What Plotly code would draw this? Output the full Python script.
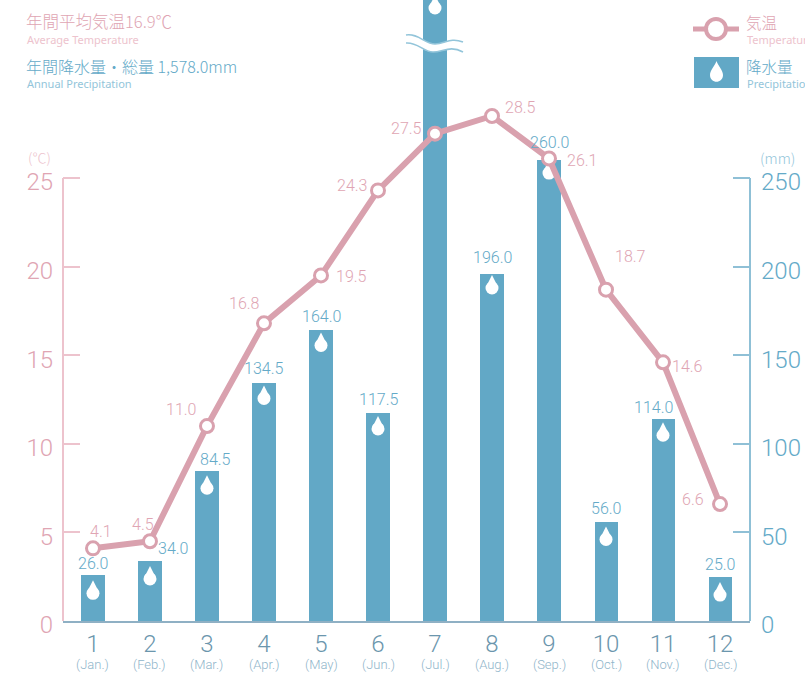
import plotly.graph_objects as go

months = list(range(1, 13))
month_names = ["(Jan.)", "(Feb.)", "(Mar.)", "(Apr.)", "(May)", "(Jun.)", "(Jul.)", "(Aug.)", "(Sep.)", "(Oct.)", "(Nov.)", "(Dec.)"]
temperature = [4.1, 4.5, 11.0, 16.8, 19.5, 24.3, 27.5, 28.5, 26.1, 18.7, 14.6, 6.6]
precipitation = [26.0, 34.0, 84.5, 134.5, 164.0, 117.5, 366.5, 196.0, 260.0, 56.0, 114.0, 25.0]
temp_ticks = [0, 5, 10, 15, 20, 25]
rain_ticks = [0, 50, 100, 150, 200, 250]

# label offsets from their point, in pixels
temp_shift = [(8, 17), (-7, 17), (-26, 17), (-19, 20), (30, -1), (-26, 5), (-29, 5), (28, 8), (33, -2), (24, 33), (24, -4), (-27, 5)]
rain_shift = [(0, 11), (23, 12), (9, 12), (0, 14), (0, 14), (0, 13), (0, 10), (0, 16), (0, 18), (0, 13), (-10, 11), (0, 12)]

PINK = "#d9a1ae"; PINK_TXT = "#e0a5b3"; PINK_LT = "#edc3cd"
BLUE = "#62a8c6"; BLUE_TXT = "#64aac8"; BLUE_LT = "#93c5da"
NUM = "Roboto"
CJK = "Noto Sans CJK JP"
W, H = 805, 675
L, R, B = 63, 55, 54
PH = H - B
PW = W - L - R
MM = (621 - 178) / 250  # px per mm
DROP_LIFT = 0.024       # px per mm: droplets sit slightly higher on the taller bars

def px(x): return (x - L) / PW
def py(y): return 1 - y / PH

fig = go.Figure()
fig.add_bar(x=months, y=precipitation, width=0.404, marker=dict(color=BLUE, line_width=0), yaxis="y", name="降水量", showlegend=False, hoverinfo="skip")

# droplets: round body and point, placed under each bar top
top_limit = PH / MM
body_y = [(p + (DROP_LIFT * p - 19) / MM) if p < top_limit else (PH - 8) / MM for p in precipitation]
tip_y = [(p + (DROP_LIFT * p - 15.5) / MM) if p < top_limit else (PH - 4.5) / MM for p in precipitation]
fig.add_scatter(x=months, y=tip_y, yaxis="y", mode="markers", hoverinfo="skip", showlegend=False,
                marker=dict(symbol="diamond-tall", size=13.6, color="white", line_width=0))
fig.add_scatter(x=months, y=body_y, yaxis="y", mode="markers", hoverinfo="skip", showlegend=False,
                marker=dict(symbol="circle", size=13, color="white", line_width=0))

fig.add_scatter(x=months, y=temperature, yaxis="y2", mode="lines+markers", hoverinfo="skip", showlegend=False, name="気温",
                line=dict(color=PINK, width=6),
                marker=dict(symbol="circle", size=13, color="white", line=dict(color=PINK, width=3)))

ann = []
def text(x, y, s, size, color, family=CJK, xanchor="left", weight=300):
    ann.append(dict(xref="paper", yref="paper", x=px(x), y=py(y), text=s, showarrow=False, xanchor=xanchor, yanchor="middle",
                    font=dict(size=size, color=color, family=family, weight=weight), borderpad=0, borderwidth=0))

for m, t, (dx, dy) in zip(months, temperature, temp_shift):
    ann.append(dict(x=m, y=t, xref="x", yref="y2", text=f"{t:.1f}", showarrow=False, xshift=dx, yshift=dy,
                    font=dict(size=16, color=PINK_TXT, family=NUM, weight=300)))
for m, p, (dx, dy) in zip(months, precipitation, rain_shift):
    if p * MM < PH:
        ann.append(dict(x=m, y=p, xref="x", yref="y", text=f"{p:.1f}", showarrow=False, xshift=dx, yshift=dy,
                        font=dict(size=16, color=BLUE_TXT, family=NUM, weight=300)))
for m, n in zip(months, month_names):
    ann.append(dict(x=m, xref="x", yref="paper", y=py(664), yanchor="middle", text=n, showarrow=False,
                    font=dict(size=13, color="#8fb5ca", family=NUM, weight=300)))

text(26, 21, "年間平均気温16.9℃", 16.5, PINK_TXT)
text(27, 39, "Average Temperature", 11, PINK_LT, "Noto Sans", weight=400)
text(26, 66, "年間降水量・総量 1,578.0mm", 16, BLUE_TXT)
text(27, 83, "Annual Precipitation", 11, BLUE_LT, "Noto Sans", weight=400)
text(28, 157, "(℃)", 14, PINK_LT)
text(760, 157, "(mm)", 14.5, BLUE_LT)
text(746, 22, "気温", 15.5, PINK_TXT)
text(747, 39, "Temperature", 11, PINK_LT, "Noto Sans", weight=400)
text(746, 66, "降水量", 15.5, BLUE_TXT)
text(747, 83, "Precipitation", 11, BLUE_LT, "Noto Sans", weight=400)

def wave(pts):
    return "M {} {} C {} {} {} {} {} {} C {} {} {} {} {} {}".format(
        *[v for x, y in pts for v in (px(x), py(y))])

upper = [(406, 35), (418, 33), (425, 44), (435, 44), (445, 44), (450, 37), (463, 42)]
lower = [(406, 43), (418, 42), (423, 52), (433, 52), (443, 52), (450, 45), (463, 52)]
gap = wave(upper) + " L {} {} C {} {} {} {} {} {} C {} {} {} {} {} {} Z".format(
    *[v for x, y in [lower[6], lower[5], lower[4], lower[3], lower[2], lower[1], lower[0]] for v in (px(x), py(y))])

shapes = [
    # partial axis lines, from 0 to the top tick
    dict(type="line", xref="paper", yref="y2", x0=0, x1=0, y0=0, y1=temp_ticks[-1], line=dict(color=PINK_LT, width=2)),
    dict(type="line", xref="paper", yref="y", x0=1, x1=1, y0=0, y1=rain_ticks[-1], line=dict(color="#8fc0d6", width=2)),
    # legend
    dict(type="line", xref="paper", yref="paper", x0=px(693), x1=px(739), y0=py(29), y1=py(29), line=dict(color=PINK, width=5)),
    dict(type="circle", xref="paper", yref="paper", x0=px(706), x1=px(726), y0=py(19), y1=py(39), fillcolor="white", line=dict(color=PINK, width=4)),
    dict(type="rect", xref="paper", yref="paper", x0=px(694), x1=px(739), y0=py(57), y1=py(88), fillcolor=BLUE, line_width=0),
    dict(type="path", xref="paper", yref="paper", fillcolor="white", line_width=0,
         path=f"M {px(716.5)} {py(61)} C {px(718)} {py(66)} {px(723)} {py(70)} {px(723)} {py(75)} "
              f"C {px(723)} {py(84)} {px(710)} {py(84)} {px(710)} {py(75)} C {px(710)} {py(70)} {px(715)} {py(66)} {px(716.5)} {py(61)} Z"),
    # axis break on the July bar
    dict(type="path", xref="paper", yref="paper", fillcolor="white", line_width=0, layer="above", path=gap),
    dict(type="path", xref="paper", yref="paper", line=dict(color=BLUE_LT, width=1.6), layer="above", path=wave(upper)),
    dict(type="path", xref="paper", yref="paper", line=dict(color=BLUE_LT, width=1.6), layer="above", path=wave(lower)),
]

fig.update_layout(
    width=W, height=H, autosize=False,
    margin=dict(l=L, r=R, t=0, b=B, pad=0, autoexpand=False),
    paper_bgcolor="white", plot_bgcolor="white",
    showlegend=False, bargap=0,
    annotations=ann, shapes=shapes,
    xaxis=dict(range=[0.474, 12.526], tickmode="array", tickvals=months, ticktext=[str(m) for m in months], showgrid=False, zeroline=False,
               showline=True, linecolor="#8fb0c4", linewidth=2, ticks="", tickangle=0, automargin=False, ticklabelstandoff=0,
               tickfont=dict(size=24, color="#6b96ad", family=NUM, weight=300)),
    yaxis=dict(range=[0, top_limit], side="right", tickmode="array", tickvals=rain_ticks, showgrid=False, zeroline=False, showline=False, automargin=False,
               ticks="inside", ticklen=17, tickwidth=1.5, tickcolor="#8fc0d6", ticklabelstandoff=10, ticklabelshift=4,
               tickfont=dict(size=24, color=BLUE_TXT, family=NUM, weight=300)),
    yaxis2=dict(range=[0, top_limit / 10], overlaying="y", side="left", tickmode="array", tickvals=temp_ticks, showgrid=False, zeroline=False, showline=False, automargin=False,
                ticks="inside", ticklen=17, tickwidth=1.5, tickcolor=PINK_LT, ticklabelstandoff=9, ticklabelshift=4,
                tickfont=dict(size=24, color=PINK_TXT, family=NUM, weight=300)),
)
fig.write_html("out.html", config=dict(displayModeBar=False),
               post_script="document.body.style.margin='0';document.documentElement.style.overflow='hidden';")
